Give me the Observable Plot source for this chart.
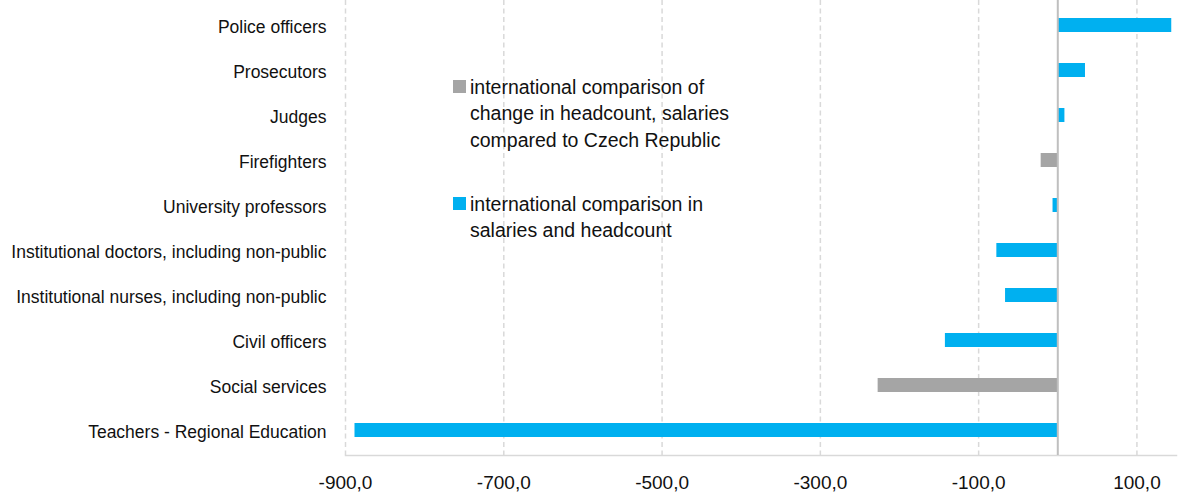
<!DOCTYPE html>
<html><head><meta charset="utf-8">
<script src="https://cdn.jsdelivr.net/npm/d3@7"></script>
<script src="https://cdn.jsdelivr.net/npm/@observablehq/plot@0.6"></script>
<style>
body{margin:0;background:#fff;font-family:"Liberation Sans",Arial,sans-serif}
#wrap{position:relative;width:1194px;height:497px}
.leg{position:absolute;left:453px;font-size:19.5px;line-height:26.5px;color:#111;font-family:"Liberation Sans",Arial,sans-serif}
.leg .sw{position:absolute;left:0;width:13px;height:13px}
.leg .tx{position:absolute;left:17px;white-space:nowrap}
</style></head><body><div id="wrap"></div>
<script>
const categories = ["Police officers","Prosecutors","Judges","Firefighters","University professors","Institutional doctors, including non-public","Institutional nurses, including non-public","Civil officers","Social services","Teachers - Regional Education"];
const values = [144, 35, 9, -21, -6, -77, -66, -142, -227, -888];
const seriesNames = ["international comparison of change in headcount, salaries compared to Czech Republic","international comparison in salaries and headcount"];
const seriesOf = [1, 1, 1, 0, 1, 1, 1, 1, 0, 1];
const seriesColors = ["#A5A5A5", "#00B0F0"];
const xTicks = [-900, -700, -500, -300, -100, 100];
const legendLines = [["international comparison of","change in headcount, salaries","compared to Czech Republic"],["international comparison in","salaries and headcount"]];

const data = categories.map((c, i) => ({category: c, value: values[i], series: seriesNames[seriesOf[i]]}));
const fmt = d => d.toFixed(1).replace(".", ",");

const chart = Plot.plot({
  width: 1194, height: 497,
  marginLeft: 345, marginRight: 18, marginTop: 0, marginBottom: 42,
  style: {fontFamily: '"Liberation Sans", Arial, sans-serif', color: "#111", background: "#fff"},
  x: {domain: [-900, 150], ticks: xTicks},
  y: {domain: categories, paddingInner: 0.69, paddingOuter: 0.345},
  color: {domain: seriesNames, range: seriesColors},
  marks: [
    Plot.ruleX(xTicks, {stroke: "#d9d9d9", strokeWidth: 1.5, strokeDasharray: "5,3.5"}),
    Plot.frame({anchor: "bottom", stroke: "#d9d9d9", strokeWidth: 1.5}),
    Plot.barX(data, {y: "category", x: "value", fill: "series"}),
    Plot.ruleX([0], {stroke: "#bfbfbf", strokeWidth: 2}),
    Plot.axisX({ticks: xTicks, tickSize: 0, tickPadding: 20, tickFormat: fmt, fontSize: 19, label: null}),
    Plot.axisY({tickSize: 0, tickPadding: 19, fontSize: 17.5, dy: 2, label: null})
  ]
});
const wrap = document.getElementById("wrap");
wrap.appendChild(chart);

const tops = [73.75, 190.75];
legendLines.forEach((lines, i) => {
  const d = document.createElement("div");
  d.className = "leg";
  d.style.top = tops[i] + "px";
  const sw = document.createElement("div");
  sw.className = "sw";
  sw.style.background = seriesColors[i];
  sw.style.top = "6.5px";
  d.appendChild(sw);
  const tx = document.createElement("div");
  tx.className = "tx";
  tx.innerHTML = lines.join("<br>");
  d.appendChild(tx);
  wrap.appendChild(d);
});
</script>
</body></html>
